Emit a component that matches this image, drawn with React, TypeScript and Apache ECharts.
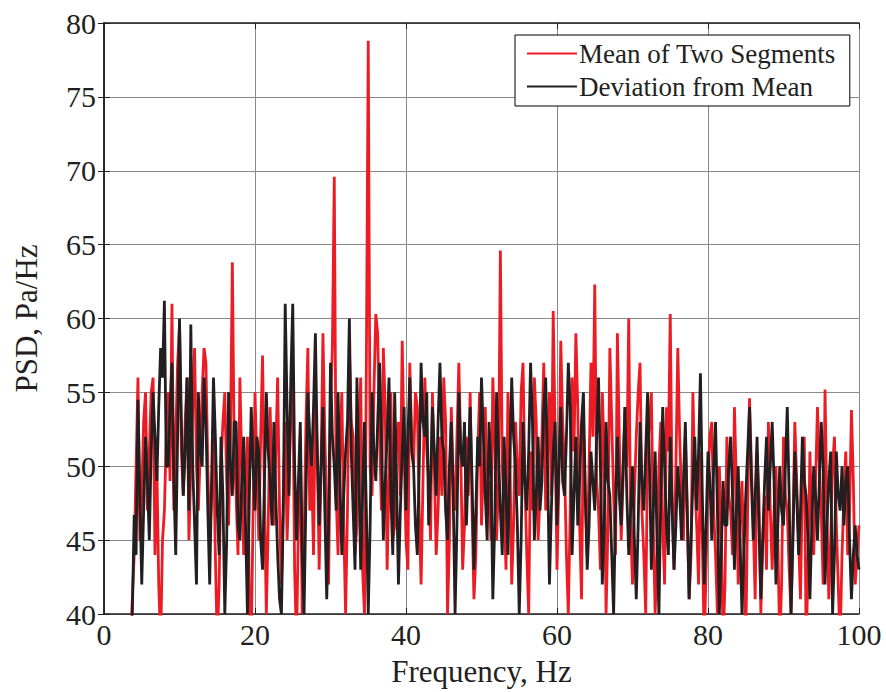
import React, { useEffect, useRef } from "react";
import * as echarts from "echarts";

const FREQ_START = 3.5;
const FREQ_STEP = 0.25;

const meanOfTwoSegments: number[] = [
  38, 41, 44, 50, 56, 45, 48, 53, 55, 47, 51, 55, 56, 44, 50, 42, 38, 45, 47, 52,
  55, 49, 61, 47, 52, 57, 59.5, 51, 48, 53, 56, 45, 50, 54, 58, 50, 47, 51, 55, 58,
  57, 50, 45, 48, 52, 44, 38, 42, 50, 53, 55, 49, 46, 52, 63.8, 51, 48, 44, 56, 50,
  44, 49, 52, 41, 38, 47, 55, 50, 45, 52, 57.5, 48, 40, 46, 54, 49, 46, 51, 56, 47,
  42, 48, 53, 45, 49, 54, 56, 43, 38, 46, 52, 40, 45, 53, 58, 47, 50, 44, 55, 51,
  43, 50, 59, 52, 47, 42, 54, 58, 69.6, 48, 44, 51, 55, 46, 40, 47, 58, 53, 52, 44,
  46, 51, 56, 43, 40, 57, 78.8, 50, 48, 55, 60.3, 59, 52, 47, 58, 54, 43, 49, 55, 45,
  46, 52, 53, 48, 58.5, 51, 45, 43, 57, 52, 50, 55, 54, 47, 42, 49, 56, 51, 49, 45,
  55, 50, 44, 47, 52, 48, 56, 53, 40, 45, 54, 49, 47, 52, 57, 51, 43, 46, 52, 48,
  55, 47, 41, 44, 51, 55, 46, 50, 54, 48, 49, 45, 56, 52, 45, 49, 64.6, 50, 47, 43,
  55, 51, 42, 46, 53, 50, 48, 55, 57, 49, 44, 40, 51, 47, 56, 53, 45, 48, 52, 57,
  47, 51, 55, 48, 60.5, 52, 43, 49, 58.5, 53, 50, 44, 40, 47, 56, 51, 59, 54, 46, 41,
  53, 48, 44, 50, 57, 52, 62.3, 49, 47, 43, 55, 51, 40, 46, 58, 53, 48, 44, 59, 52,
  45, 49, 54, 50, 60, 46, 42, 48, 52, 55, 57, 47, 44, 40, 51, 53, 55, 46, 40, 44,
  50, 53, 46, 42, 54, 51, 60.3, 48, 43, 50, 58, 52, 48, 45, 52, 47, 41, 44, 55, 49,
  46, 42, 51, 45, 38, 43, 49, 52, 53, 47, 44, 40, 50, 46, 38, 42, 52, 48, 47, 44,
  54, 49, 42, 46, 49, 44, 38, 47, 54.6, 50, 46, 41, 51, 48, 40, 45, 48, 43, 53, 47,
  43, 47, 50, 45, 38, 42, 52, 48, 47, 43, 40, 46, 53, 49, 45, 41, 49, 52, 38, 43,
  51, 46, 44, 49, 54, 50, 47, 42, 55.2, 47, 41, 45, 50, 52, 46, 42, 38, 44, 48, 51,
  44, 47, 53.8, 49, 42, 44, 46,
];

const deviationFromMean: number[] = [
  38, 40, 46.7, 44, 54.5, 48, 42, 47, 52, 49, 45, 51, 55, 52, 49, 54, 58, 56, 61.2, 50,
  50, 54, 57, 49, 44, 52, 60, 53, 48, 51, 56, 47, 59.6, 50, 46, 42, 55, 51, 50, 56,
  53, 47, 42, 49, 56, 52, 47, 44, 52, 48, 40, 45, 55, 50, 48, 53, 53, 46, 45, 49,
  52, 46, 40, 48, 54, 50, 47, 52, 51, 45, 43, 49, 55, 51, 49, 46, 53, 48, 44, 41,
  40, 47, 61, 54, 48, 56, 61, 50, 45, 49, 53, 44, 40, 48, 55, 52, 50, 54, 59, 51,
  46, 50, 54, 47, 41, 46, 57, 52, 50, 47, 55, 49, 44, 48, 51, 53, 60, 51, 47, 43,
  56, 50, 43, 48, 53, 47, 40, 46, 55, 51, 49, 53, 57, 52, 45, 49, 52, 56, 48, 44,
  55, 49, 42, 47, 51, 54, 47, 52, 56, 51, 50, 46, 44, 50, 57, 53, 52, 55, 46, 49,
  54, 51, 48, 53, 57, 52, 51, 47, 45, 50, 53, 48, 40, 46, 55, 51, 50, 53, 46, 50,
  54, 49, 43, 47, 52, 50, 56, 52, 48, 45, 53, 50, 41, 46, 55, 51, 47, 44, 52, 48,
  44, 50, 56, 52, 50, 46, 40, 45, 53, 49, 47, 51, 57, 53, 45, 48, 52, 47, 49, 54,
  56, 50, 42, 47, 51, 53, 46, 50, 54, 49, 48, 52, 57, 54, 44, 48, 52, 46, 49, 53,
  55, 48, 43, 46, 51, 49, 47, 52, 56, 50, 42, 46, 53, 49, 48, 44, 40, 47, 52, 48,
  46, 50, 54, 48, 44, 47, 50, 45, 41, 46, 53, 49, 47, 51, 55, 50, 43, 47, 51, 45,
  40, 48, 54, 50, 46, 44, 52, 47, 43, 46, 50, 48, 45, 49, 53, 47, 41, 45, 49, 52,
  47, 51, 56.3, 48, 42, 46, 51, 49, 45, 50, 53, 47, 40, 44, 49, 46, 46, 50, 52, 48,
  43, 47, 50, 45, 40, 44, 48, 51, 54, 49, 45, 48, 52, 46, 41, 45, 49, 52, 47, 50,
  53, 49, 42, 46, 50, 47, 46, 50, 54, 48, 40, 45, 51, 48, 44, 47, 52, 49, 48, 45,
  41, 46, 50, 48, 45, 49, 53, 50, 42, 46, 49, 51, 40, 44, 51, 48, 47, 50, 46, 49,
  50, 45, 41, 44, 46, 44, 43,
];

const SERIES_NAMES = ["Mean of Two Segments", "Deviation from Mean"];
const X_TICKS = [0, 20, 40, 60, 80, 100];
const Y_TICKS = [40, 45, 50, 55, 60, 65, 70, 75, 80];

const toPairs = (vals: number[]) => vals.map((v, i) => [FREQ_START + i * FREQ_STEP, v]);

export default function App() {
  const ref = useRef<HTMLDivElement>(null);
  useEffect(() => {
    if (!ref.current) return;
    const chart = echarts.init(ref.current, null, { renderer: "svg" });
    const font = "'Liberation Serif', 'Times New Roman', serif";
    const gridColor = "#8a8a8a";
    const ink = "#231f20";
    chart.setOption({
      animation: false,
      backgroundColor: "#ffffff",
      textStyle: { fontFamily: font },
      grid: { left: 104, right: 27, top: 23, bottom: 71, containLabel: false },
      legend: {
        data: SERIES_NAMES,
        orient: "vertical",
        left: 515,
        top: 35,
        icon: "rect",
        backgroundColor: "#ffffff",
        borderColor: "#000000",
        borderWidth: 1,
        padding: [5, 14, 6, 12],
        itemWidth: 50,
        itemHeight: 2,
        itemGap: 6,
        textStyle: { fontFamily: font, fontSize: 27, color: ink, padding: [0, 0, 0, -3] },
      },
      xAxis: [
        {
          type: "value",
          min: X_TICKS[0],
          max: X_TICKS[X_TICKS.length - 1],
          interval: 20,
          name: "Frequency, Hz",
          nameLocation: "middle",
          nameGap: 42,
          nameTextStyle: { fontFamily: font, fontSize: 31, color: ink },
          axisLine: { show: true, lineStyle: { color: ink, width: 1.5 } },
          axisTick: { show: true, inside: true, length: 6, lineStyle: { color: ink } },
          axisLabel: { fontFamily: font, fontSize: 30, color: ink, margin: 5 },
          splitLine: { show: true, lineStyle: { color: gridColor, width: 1 } },
        },
        {
          type: "value",
          position: "top",
          min: 0,
          max: 100,
          interval: 20,
          axisLine: { show: true, lineStyle: { color: ink, width: 1.5 } },
          axisTick: { show: true, inside: true, length: 6, lineStyle: { color: ink } },
          axisLabel: { show: false },
          splitLine: { show: false },
        },
      ],
      yAxis: [
        {
          type: "value",
          min: Y_TICKS[0],
          max: Y_TICKS[Y_TICKS.length - 1],
          interval: 5,
          name: "PSD, Pa/Hz",
          nameLocation: "middle",
          nameGap: 62,
          nameRotate: 90,
          nameTextStyle: { fontFamily: font, fontSize: 31, color: ink },
          axisLine: { show: true, lineStyle: { color: ink, width: 1.5 } },
          axisTick: { show: true, inside: true, length: 6, lineStyle: { color: ink } },
          axisLabel: { fontFamily: font, fontSize: 30, color: ink, margin: 8 },
          splitLine: { show: true, lineStyle: { color: gridColor, width: 1 } },
        },
        {
          type: "value",
          position: "right",
          min: 40,
          max: 80,
          interval: 5,
          axisLine: { show: true, lineStyle: { color: ink, width: 1.5 } },
          axisTick: { show: true, inside: true, length: 6, lineStyle: { color: ink } },
          axisLabel: { show: false },
          splitLine: { show: false },
        },
      ],
      series: [
        {
          name: SERIES_NAMES[0],
          type: "line",
          data: toPairs(meanOfTwoSegments),
          symbol: "none",
          clip: true,
          lineStyle: { color: "#ed1c24", width: 2.8 },
          itemStyle: { color: "#ed1c24" },
        },
        {
          name: SERIES_NAMES[1],
          type: "line",
          data: toPairs(deviationFromMean),
          symbol: "none",
          clip: true,
          lineStyle: { color: ink, width: 2.8 },
          itemStyle: { color: ink },
        },
      ],
    });
    return () => chart.dispose();
  }, []);
  return (
    <div
      ref={ref}
      style={{ position: "fixed", left: 0, top: 0, width: 886, height: 692 }}
    />
  );
}
